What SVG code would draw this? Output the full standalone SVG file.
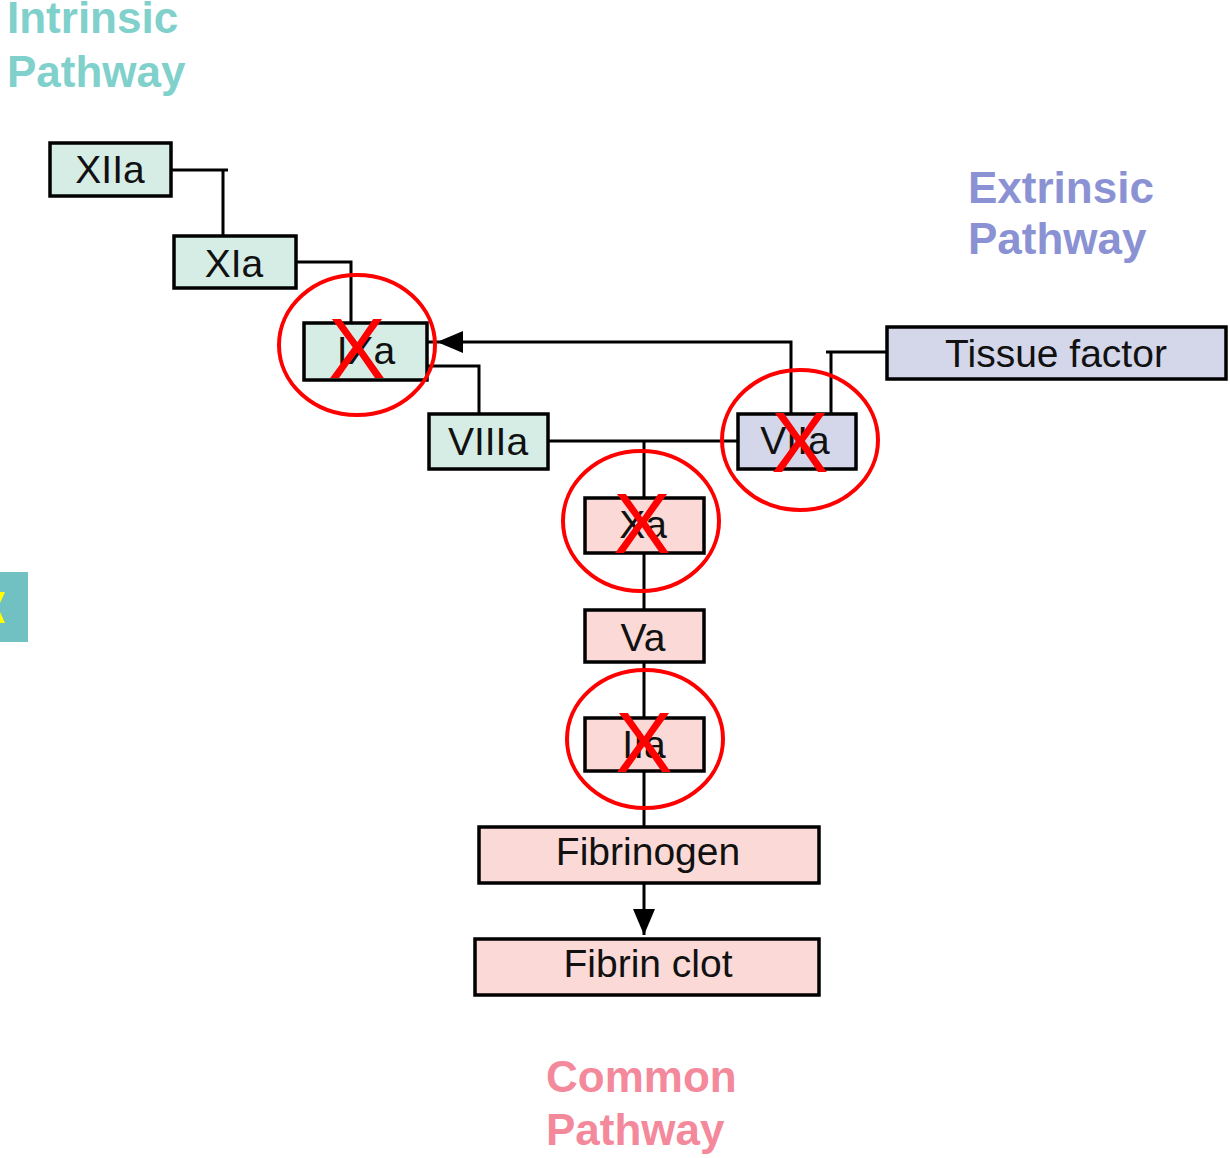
<svg xmlns="http://www.w3.org/2000/svg" width="1230" height="1158" viewBox="0 0 1230 1158">
<defs>
<style>
.box{stroke:#000;stroke-width:3.5}
.in{fill:#d6ede6}
.ex{fill:#d4d6ea}
.co{fill:#fbd9d6}
.lbl{font-family:"Liberation Sans",Arial,sans-serif;font-size:39px;fill:#111;text-anchor:middle}
.path{font-family:"Liberation Sans",Arial,sans-serif;font-size:44px;font-weight:bold}
.con{fill:none;stroke:#000;stroke-width:3}
.ring{fill:none;stroke:#f00;stroke-width:4}
.x{font-family:"Liberation Sans",Arial,sans-serif;font-size:86px;fill:#f00;text-anchor:middle}
</style>
<marker id="arr" markerUnits="userSpaceOnUse" markerWidth="26" markerHeight="22" refX="26" refY="11" orient="auto">
<path d="M0,0 L26,11 L0,22 z" fill="#000"/>
</marker>
</defs>
<rect width="1230" height="1158" fill="#fff"/>

<g id="labels">
<text class="path" fill="#80d0cc"><tspan x="7" y="33">Intrinsic</tspan><tspan x="7" y="87">Pathway</tspan></text>
<text class="path" fill="#8b92d4"><tspan x="968" y="203">Extrinsic</tspan><tspan x="968" y="254">Pathway</tspan></text>
<text class="path" fill="#f4899b"><tspan x="546" y="1092">Common</tspan><tspan x="546" y="1145">Pathway</tspan></text>
</g>

<g id="side-tab">
<rect x="0" y="572" width="28" height="70" fill="#72c1c2"/>
<polygon points="0,592 5,592 0,603" fill="#ffff00"/>
<polygon points="0,612 5,623 0,623" fill="#ffff00"/>
</g>

<g id="connectors">
<path class="con" d="M171,170 H228 M223,170 V235"/>
<path class="con" d="M296,262 H351 V322"/>
<path class="con" d="M422,366 H479 V413"/>
<path class="con" d="M791,413 V342 H437" marker-end="url(#arr)"/>
<path class="con" d="M437,342 H428"/>
<path class="con" d="M886,352 H826 M831,352 V413"/>
<path class="con" d="M548,441 H737"/>
<path class="con" d="M644,441 V826"/>
<path class="con" d="M644,883 V935" marker-end="url(#arr)"/>
</g>

<g id="XIIa"><rect class="box in" x="50" y="143" width="121" height="53"/><text class="lbl" x="110" y="183">XIIa</text></g>
<g id="XIa"><rect class="box in" x="174" y="236" width="122" height="52"/><text class="lbl" x="234" y="277">XIa</text></g>
<g id="IXa"><rect class="box in" x="304" y="323" width="123" height="57"/><text class="lbl" x="366" y="364">IXa</text></g>
<g id="VIIIa"><rect class="box in" x="429" y="414" width="119" height="55"/><text class="lbl" x="488" y="455">VIIIa</text></g>
<g id="VIIa"><rect class="box ex" x="738" y="414" width="118" height="55"/><text class="lbl" x="795" y="454">VIIa</text></g>
<g id="tissue-factor"><rect class="box ex" x="887" y="327" width="339" height="52"/><text class="lbl" x="1056" y="367">Tissue factor</text></g>
<g id="Xa"><rect class="box co" x="585" y="498" width="119" height="55"/><text class="lbl" x="643" y="538">Xa</text></g>
<g id="Va"><rect class="box co" x="585" y="610" width="119" height="52"/><text class="lbl" x="643" y="651">Va</text></g>
<g id="IIa"><rect class="box co" x="585" y="718" width="119" height="53"/><text class="lbl" x="644" y="758">IIa</text></g>
<g id="fibrinogen"><rect class="box co" x="479" y="827" width="340" height="56"/><text class="lbl" x="648" y="865">Fibrinogen</text></g>
<g id="fibrin-clot"><rect class="box co" x="475" y="939" width="344" height="56"/><text class="lbl" x="648" y="977">Fibrin clot</text></g>

<g id="inhibitions">
<ellipse class="ring" cx="357" cy="345" rx="78" ry="70"/>
<text class="x" x="357" y="378">X</text>
<ellipse class="ring" cx="800" cy="440" rx="78" ry="70"/>
<text class="x" x="800" y="472">X</text>
<ellipse class="ring" cx="641" cy="521" rx="78" ry="70"/>
<text class="x" x="642" y="553">X</text>
<ellipse class="ring" cx="645" cy="739" rx="78" ry="69"/>
<text class="x" x="644" y="772">X</text>
</g>
</svg>
